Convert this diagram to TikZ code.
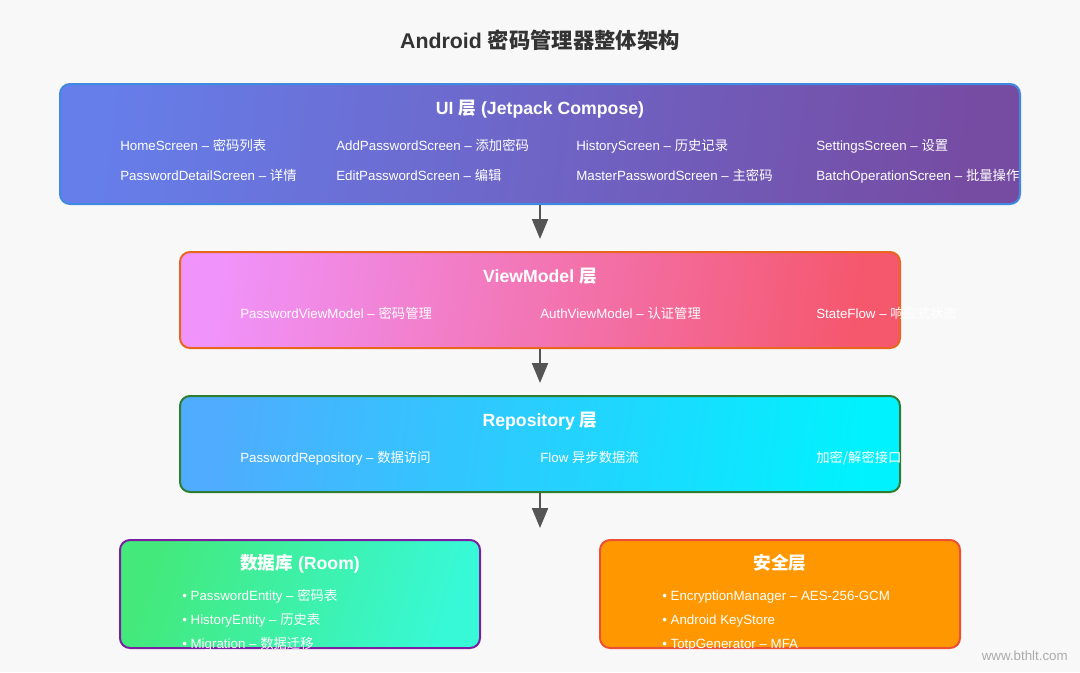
\documentclass[tikz,border=0pt]{standalone}
\usepackage{fontspec}
\setmainfont{Liberation Sans}
\newfontfamily\cjk{Noto Sans CJK SC}
\newcommand{\zh}[1]{{\cjk #1}}
\usetikzlibrary{arrows.meta}
\definecolor{bgcol}{HTML}{F8F8F8}
\definecolor{titlegray}{HTML}{333333}
\definecolor{arrowgray}{HTML}{555555}
\definecolor{markgray}{HTML}{ABABAB}
\definecolor{uiA}{HTML}{667EEA}
\definecolor{uiB}{HTML}{764BA2}
\definecolor{uiEdge}{HTML}{3F8AE0}
\definecolor{vmA}{HTML}{F093FB}
\definecolor{vmB}{HTML}{F5576C}
\definecolor{vmEdge}{HTML}{E8661E}
\definecolor{repoA}{HTML}{4FACFE}
\definecolor{repoB}{HTML}{00F2FE}
\definecolor{repoEdge}{HTML}{2E7D32}
\definecolor{dbA}{HTML}{43E97B}
\definecolor{dbB}{HTML}{38F9D7}
\definecolor{dbEdge}{HTML}{7B1FA2}
\definecolor{secFill}{HTML}{FF9800}
\definecolor{secEdge}{HTML}{EE5035}

\begin{document}
\begin{tikzpicture}[
  x=0.75pt, y=-0.75pt,
  font=\fontsize{10}{12}\selectfont,
  layer/.style={draw, rounded corners=7.5pt, line width=1.5pt},
  ttl/.style={text=white, anchor=base, inner sep=0pt,
    font=\fontsize{13.25}{16}\selectfont\bfseries},
  item/.style={text=white, anchor=base west, inner sep=0pt},
  flow/.style={draw=arrowgray, line width=1.5pt,
    -{Triangle[length=15pt,width=12pt]}}]
\useasboundingbox[fill=bgcol] (0,0) rectangle (1080,672);
\node[text=titlegray, anchor=base, inner sep=0pt,
  font=\fontsize{16}{19}\selectfont\bfseries] (title) at (540,48)
  {Android \zh{密码管理器整体架构}};

\node[layer, draw=uiEdge, top color=uiA, bottom color=uiB, shading angle=83,
  minimum width=720pt, minimum height=90pt] (ui) at (540,144) {};
\node[ttl] (uititle) at (540,114) {UI \zh{层} (Jetpack Compose)};
\node[item] (home) at (120,150) {HomeScreen – \zh{密码列表}};
\node[item] (add) at (336,150) {AddPasswordScreen – \zh{添加密码}};
\node[item] (hist) at (576,150) {HistoryScreen – \zh{历史记录}};
\node[item] (sett) at (816,150) {SettingsScreen – \zh{设置}};
\node[item] (detail) at (120,180) {PasswordDetailScreen – \zh{详情}};
\node[item] (edit) at (336,180) {EditPasswordScreen – \zh{编辑}};
\node[item] (master) at (576,180) {MasterPasswordScreen – \zh{主密码}};
\node[item] (batch) at (816,180) {BatchOperationScreen – \zh{批量操作}};

\node[layer, draw=vmEdge, top color=vmA, bottom color=vmB, shading angle=82,
  minimum width=540pt, minimum height=72pt] (vm) at (540,300) {};
\node[ttl] (vmtitle) at (540,282) {ViewModel \zh{层}};
\node[item] (pwvm) at (240,318) {PasswordViewModel – \zh{密码管理}};
\node[item] (authvm) at (540,318) {AuthViewModel – \zh{认证管理}};
\node[item] (state) at (816,318) {StateFlow – \zh{响应式状态}};

\node[layer, draw=repoEdge, top color=repoA, bottom color=repoB, shading angle=82,
  minimum width=540pt, minimum height=72pt] (repo) at (540,444) {};
\node[ttl] (repotitle) at (540,426) {Repository \zh{层}};
\node[item] (pwrepo) at (240,462) {PasswordRepository – \zh{数据访问}};
\node[item] (flowitem) at (540,462) {Flow \zh{异步数据流}};
\node[item] (crypt) at (816,462) {\zh{加密/解密接口}};

\node[layer, draw=dbEdge, top color=dbA, bottom color=dbB, shading angle=73,
  minimum width=270pt, minimum height=81pt] (db) at (300,594) {};
\node[ttl] (dbtitle) at (300,569) {\zh{数据库} (Room)};
\node[item] (entity) at (182,600) {• PasswordEntity – \zh{密码表}};
\node[item] (hentity) at (182,624) {• HistoryEntity – \zh{历史表}};
\node[item] (migr) at (182,648) {• Migration – \zh{数据迁移}};

\node[layer, draw=secEdge, fill=secFill,
  minimum width=270pt, minimum height=81pt] (sec) at (780,594) {};
\node[ttl] (sectitle) at (780,569) {\zh{安全层}};
\node[item] (encm) at (662,600) {• EncryptionManager – AES-256-GCM};
\node[item] (keyst) at (662,624) {• Android KeyStore};
\node[item] (totp) at (662,648) {• TotpGenerator – MFA};

\node[text=markgray, anchor=base east, inner sep=0pt] (mark) at (1068,660) {www.bthlt.com};

\coordinate (split) at (540,540);
\draw[flow, shorten >=9pt] (ui.south) -- (vm.north);
\draw[flow, shorten >=9pt] (vm.south) -- (repo.north);
\draw[flow, shorten >=9pt] (repo.south) -- (split);
\end{tikzpicture}
\end{document}
